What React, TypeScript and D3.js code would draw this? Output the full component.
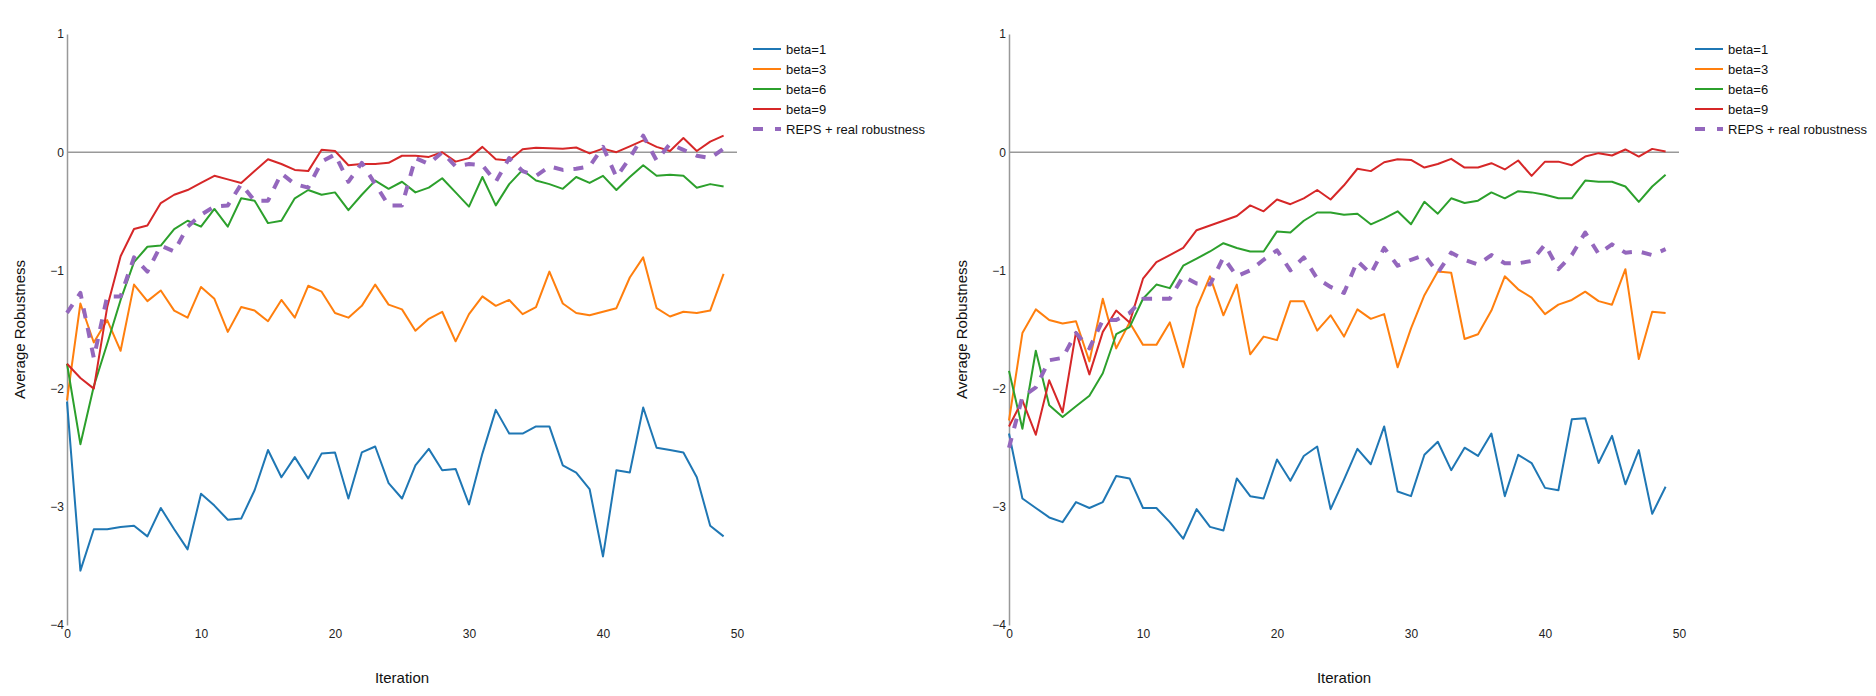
import React, { useRef, useEffect } from 'react';
import * as d3 from 'd3';

// iteration index 0..49
const iterations = d3.range(50);
const xTicks = [0, 10, 20, 30, 40, 50];
const yTicks = [1, 0, -1, -2, -3, -4];

const seriesNames = ['beta=1', 'beta=3', 'beta=6', 'beta=9', 'REPS + real robustness'];
const seriesColors = ['#1f77b4', '#ff7f0e', '#2ca02c', '#d62728', '#9467bd'];

// left panel
const leftBeta1 = [-2.11, -3.54, -3.19, -3.19, -3.17, -3.16, -3.25, -3.01, -3.19, -3.36, -2.89, -2.99, -3.11, -3.10, -2.86, -2.52, -2.75, -2.58, -2.76, -2.55, -2.54, -2.93, -2.54, -2.49, -2.80, -2.93, -2.65, -2.51, -2.69, -2.68, -2.98, -2.55, -2.18, -2.38, -2.38, -2.32, -2.32, -2.65, -2.71, -2.85, -3.42, -2.69, -2.71, -2.16, -2.50, -2.52, -2.54, -2.75, -3.16, -3.25];
const leftBeta3 = [-2.10, -1.28, -1.61, -1.42, -1.68, -1.12, -1.26, -1.17, -1.34, -1.40, -1.14, -1.24, -1.52, -1.31, -1.34, -1.43, -1.25, -1.40, -1.13, -1.18, -1.36, -1.40, -1.30, -1.12, -1.29, -1.33, -1.51, -1.41, -1.35, -1.60, -1.37, -1.22, -1.30, -1.25, -1.37, -1.31, -1.01, -1.28, -1.36, -1.38, -1.35, -1.32, -1.06, -0.89, -1.32, -1.39, -1.35, -1.36, -1.34, -1.03];
const leftBeta6 = [-1.79, -2.47, -1.98, -1.62, -1.25, -0.93, -0.80, -0.79, -0.65, -0.58, -0.63, -0.48, -0.63, -0.39, -0.41, -0.60, -0.58, -0.39, -0.32, -0.36, -0.34, -0.49, -0.36, -0.24, -0.31, -0.25, -0.34, -0.30, -0.22, -0.34, -0.46, -0.21, -0.45, -0.27, -0.15, -0.24, -0.27, -0.31, -0.21, -0.26, -0.20, -0.32, -0.21, -0.11, -0.20, -0.19, -0.20, -0.30, -0.27, -0.29];
const leftBeta9 = [-1.79, -1.91, -2.00, -1.31, -0.88, -0.65, -0.62, -0.43, -0.36, -0.32, -0.26, -0.20, -0.23, -0.26, -0.16, -0.06, -0.10, -0.15, -0.16, 0.02, 0.01, -0.11, -0.10, -0.10, -0.09, -0.03, -0.03, -0.04, 0.00, -0.08, -0.05, 0.045, -0.06, -0.07, 0.025, 0.037, 0.034, 0.03, 0.04, -0.01, 0.03, 0.00, 0.05, 0.10, 0.045, 0.01, 0.12, 0.01, 0.09, 0.14];
const leftReps = [-1.36, -1.19, -1.74, -1.22, -1.22, -0.89, -1.01, -0.79, -0.84, -0.63, -0.53, -0.46, -0.45, -0.27, -0.41, -0.41, -0.18, -0.27, -0.30, -0.08, -0.02, -0.25, -0.09, -0.27, -0.45, -0.45, -0.05, -0.10, 0.00, -0.12, -0.10, -0.11, -0.25, -0.05, -0.16, -0.20, -0.12, -0.15, -0.14, -0.12, 0.045, -0.21, -0.05, 0.14, -0.07, 0.07, 0.02, -0.03, -0.05, 0.03];

// right panel
const rightBeta1 = [-2.38, -2.93, -3.01, -3.09, -3.13, -2.96, -3.01, -2.96, -2.74, -2.76, -3.01, -3.01, -3.13, -3.27, -3.02, -3.17, -3.20, -2.76, -2.91, -2.93, -2.60, -2.78, -2.57, -2.49, -3.02, -2.77, -2.51, -2.64, -2.32, -2.87, -2.91, -2.56, -2.45, -2.69, -2.50, -2.57, -2.38, -2.91, -2.56, -2.63, -2.84, -2.86, -2.26, -2.25, -2.63, -2.40, -2.81, -2.52, -3.06, -2.83];
const rightBeta3 = [-2.27, -1.53, -1.33, -1.42, -1.45, -1.43, -1.77, -1.24, -1.66, -1.44, -1.63, -1.63, -1.44, -1.82, -1.32, -1.05, -1.38, -1.12, -1.71, -1.56, -1.59, -1.26, -1.26, -1.51, -1.38, -1.56, -1.33, -1.41, -1.37, -1.82, -1.49, -1.21, -1.01, -1.02, -1.58, -1.54, -1.34, -1.05, -1.16, -1.23, -1.37, -1.29, -1.25, -1.18, -1.26, -1.29, -0.99, -1.75, -1.35, -1.36];
const rightBeta6 = [-1.85, -2.34, -1.68, -2.14, -2.24, -2.15, -2.06, -1.87, -1.54, -1.48, -1.24, -1.12, -1.15, -0.96, -0.90, -0.84, -0.77, -0.81, -0.84, -0.84, -0.67, -0.68, -0.58, -0.51, -0.51, -0.53, -0.52, -0.61, -0.56, -0.50, -0.61, -0.42, -0.52, -0.39, -0.43, -0.41, -0.34, -0.39, -0.33, -0.34, -0.36, -0.39, -0.39, -0.24, -0.25, -0.25, -0.29, -0.42, -0.29, -0.19];
const rightBeta9 = [-2.32, -2.10, -2.39, -1.93, -2.20, -1.52, -1.88, -1.52, -1.34, -1.44, -1.07, -0.93, -0.87, -0.81, -0.66, -0.62, -0.58, -0.54, -0.45, -0.50, -0.40, -0.44, -0.39, -0.32, -0.40, -0.28, -0.14, -0.16, -0.085, -0.06, -0.065, -0.13, -0.10, -0.056, -0.13, -0.13, -0.093, -0.146, -0.07, -0.20, -0.08, -0.08, -0.11, -0.037, -0.008, -0.028, 0.023, -0.037, 0.028, 0.006];
const rightReps = [-2.50, -2.07, -1.99, -1.76, -1.74, -1.53, -1.66, -1.42, -1.42, -1.36, -1.24, -1.24, -1.24, -1.05, -1.11, -1.12, -0.89, -1.05, -1.00, -0.91, -0.83, -1.00, -0.89, -1.07, -1.14, -1.19, -0.92, -1.03, -0.81, -0.96, -0.91, -0.87, -1.02, -0.85, -0.91, -0.95, -0.87, -0.94, -0.94, -0.92, -0.78, -0.99, -0.87, -0.68, -0.86, -0.78, -0.85, -0.84, -0.87, -0.82];

const FONT = '"Liberation Sans", Arial, Helvetica, sans-serif';
const AXIS_GRAY = '#999';

const App: React.FC = () => {
  const svgRef = useRef<SVGSVGElement | null>(null);
  const width = 1876;
  const height = 696;

  useEffect(() => {
    const svg = d3.select(svgRef.current);
    svg.selectAll('*').remove();

    const panels = [
      { left: 67, data: [leftBeta1, leftBeta3, leftBeta6, leftBeta9, leftReps] },
      { left: 1009, data: [rightBeta1, rightBeta3, rightBeta6, rightBeta9, rightReps] },
    ];

    const plotWidth = 670;
    const top = 34;
    const bottom = 625;

    panels.forEach(panel => {
      const x = d3.scaleLinear().domain([0, 50]).range([panel.left, panel.left + plotWidth]);
      const y = d3.scaleLinear().domain([-4, 1]).range([bottom, top]);
      const g = svg.append('g');

      // y axis
      const yAxis = g.append('g')
        .attr('transform', `translate(${panel.left},0)`)
        .call(d3.axisLeft(y).tickValues(yTicks).tickFormat(d3.format('d')).tickSize(0).tickSizeOuter(0).tickPadding(3));
      yAxis.select('.domain').attr('stroke', AXIS_GRAY).attr('stroke-width', 1.5);
      yAxis.selectAll('text').attr('font-family', FONT).attr('font-size', 12).attr('fill', '#222');

      // x tick labels (no axis line at the bottom)
      const xAxis = g.append('g')
        .attr('transform', `translate(0,${bottom})`)
        .call(d3.axisBottom(x).tickValues(xTicks).tickFormat(d3.format('d')).tickSize(0).tickSizeOuter(0).tickPadding(4));
      xAxis.select('.domain').remove();
      xAxis.selectAll('text').attr('font-family', FONT).attr('font-size', 12).attr('fill', '#222');

      // zero line
      g.append('line')
        .attr('x1', x(0)).attr('x2', x(50))
        .attr('y1', y(0)).attr('y2', y(0))
        .attr('stroke', AXIS_GRAY)
        .attr('stroke-width', 1.5);

      // axis titles
      g.append('text')
        .attr('transform', `translate(${panel.left - 42},${(top + bottom) / 2}) rotate(-90)`)
        .attr('text-anchor', 'middle')
        .attr('font-family', FONT)
        .attr('font-size', 15)
        .attr('fill', '#111')
        .text('Average Robustness');

      g.append('text')
        .attr('x', panel.left + plotWidth / 2)
        .attr('y', 683)
        .attr('text-anchor', 'middle')
        .attr('font-family', FONT)
        .attr('font-size', 15)
        .attr('fill', '#111')
        .text('Iteration');

      // series lines
      const line = d3.line<number>()
        .x((d, i) => x(iterations[i]))
        .y(d => y(d));

      panel.data.forEach((values, k) => {
        const dashed = k === 4;
        g.append('path')
          .datum(values)
          .attr('d', line)
          .attr('fill', 'none')
          .attr('stroke', seriesColors[k])
          .attr('stroke-width', dashed ? 4 : 2)
          .attr('stroke-dasharray', dashed ? '10,10' : null)
          .attr('stroke-linejoin', 'round');
      });

      // legend
      const legend = g.append('g')
        .attr('transform', `translate(${panel.left + 686},49)`);

      seriesNames.forEach((name, k) => {
        const row = legend.append('g').attr('transform', `translate(0,${k * 20})`);
        row.append('line')
          .attr('x1', 0).attr('x2', 28)
          .attr('y1', 0).attr('y2', 0)
          .attr('stroke', seriesColors[k])
          .attr('stroke-width', k === 4 ? 4 : 2)
          .attr('stroke-dasharray', k === 4 ? '10,12' : null);
        row.append('text')
          .attr('x', 33)
          .attr('y', 0)
          .attr('dy', '0.35em')
          .attr('font-family', FONT)
          .attr('font-size', 13)
          .attr('fill', '#111')
          .text(name);
      });
    });
  }, []);

  return (
    <svg
      ref={svgRef}
      width={width}
      height={height}
      style={{ position: 'absolute', left: 0, top: 0, display: 'block', background: '#fff' }}
    />
  );
};

export default App;
